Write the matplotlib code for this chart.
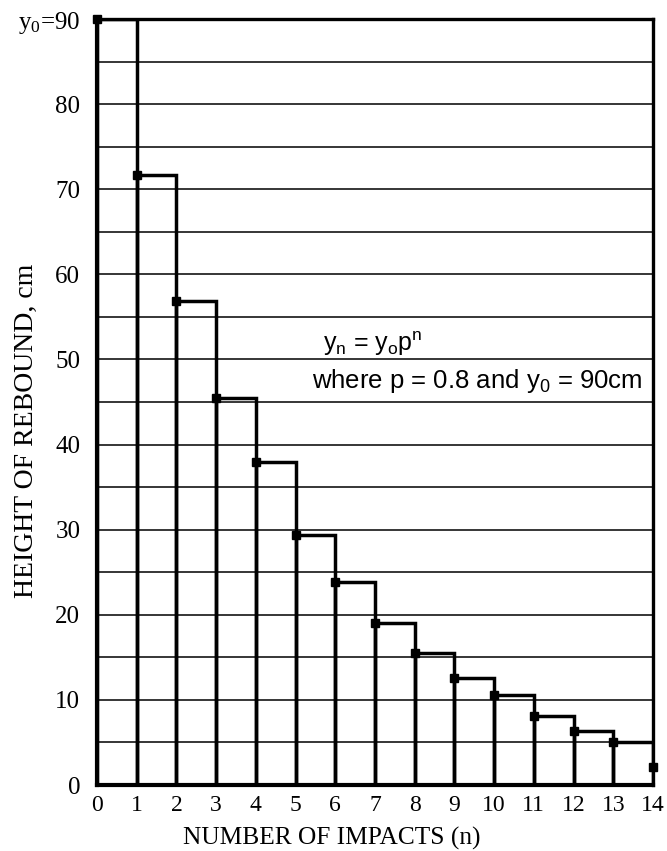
import numpy as np
import matplotlib.pyplot as plt

# rebound heights, n = 0..14
impacts = list(range(15))
heights = [90.0, 71.7, 56.9, 45.5, 37.9, 29.4, 23.8, 19.0, 15.5, 12.6, 10.6, 8.1, 6.4, 5.1, 2.1]
ytick_vals = [0, 10, 20, 30, 40, 50, 60, 70, 80, 90]
ytick_text = ['0', '10', '20', '30', '40', '50', '60', '70', '80', r'y$\mathregular{_0}$=90']

serif = 'Liberation Serif'
sans = 'Liberation Sans'
W, H = 667, 851

fig = plt.figure(figsize=(W / 100, H / 100), dpi=100)
ax = fig.add_axes([97 / W, 1 - 785 / H, 556 / W, 766 / H])

# one outlined bar per interval [n, n+1) with the height after impact n
ax.bar(impacts[:-1], heights[:-1], width=1.0, align='edge', fill=False,
       edgecolor='black', linewidth=2.5, zorder=3)
ax.plot(impacts, heights, 's', color='black', markersize=6, zorder=4, clip_on=False)

ax.set_xlim(0, 14)
ax.set_ylim(0, 90)
ax.set_xticks(impacts)
ax.set_xticklabels([str(n) for n in impacts], fontsize=17, family=serif)
ax.set_yticks(ytick_vals)
ax.set_yticklabels(ytick_text, fontsize=18, family=serif)
ax.set_yticks(np.arange(0, 91, 5), minor=True)
ax.tick_params(which='both', length=0)
ax.tick_params(axis='x', pad=7)
ax.tick_params(axis='y', pad=12)
ax.grid(which='both', axis='y', color='black', linewidth=1.1, zorder=1)
ax.set_axisbelow(True)

for side in ['left', 'bottom']:
    ax.spines[side].set_linewidth(3.0)
for side in ['top', 'right']:
    ax.spines[side].set_linewidth(2.4)

# axis titles placed where the reference has them
fig.text(332 / W, 1 - 845 / H, 'NUMBER OF IMPACTS (n)', fontsize=18.3, family=serif,
         ha='center', va='baseline')
fig.text(26 / W, 1 - 431 / H, 'HEIGHT OF REBOUND, cm', fontsize=20, family=serif,
         rotation=90, ha='center', va='center')

ax.text(5.7, 51.8, r'y$\mathregular{_n}$ = y$\mathregular{_o}$p$\mathregular{^n}$',
        fontsize=18, family=sans, va='center', ha='left', zorder=5)
ax.text(5.42, 47.5, r'where p = 0.8 and y$\mathregular{_0}$ = 90cm', fontsize=18.5,
        family=sans, va='center', ha='left', zorder=5)

fig.savefig('out.png', dpi=100)
